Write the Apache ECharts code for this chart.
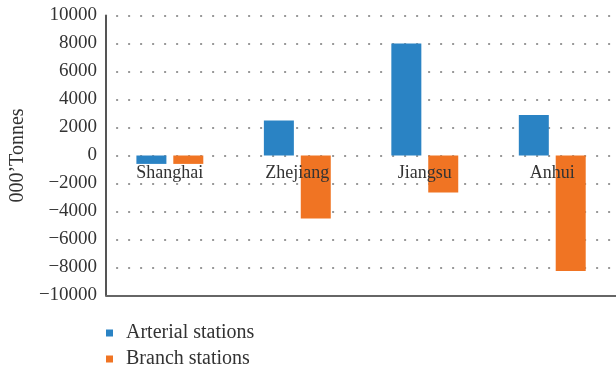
<!DOCTYPE html>
<html>
<head>
<meta charset="utf-8">
<script src="https://cdn.jsdelivr.net/npm/echarts@6/dist/echarts.min.js"></script>
<style>
  html, body { margin: 0; padding: 0; background: #fff; }
  #chart { width: 616px; height: 368px; }
</style>
</head>
<body>
<div id="chart"></div>
<script>
var categories = ['Shanghai', 'Zhejiang', 'Jiangsu', 'Anhui'];
var arterial = [-600, 2500, 8000, 2900];
var branch = [-600, -4500, -2650, -8250];
var seriesNames = ['Arterial stations', 'Branch stations'];
var colors = ['#2A83C4', '#F07423'];

var serif = '"Liberation Serif", "DejaVu Serif", serif';

var myChart = echarts.init(document.getElementById('chart'), null, { renderer: 'canvas' });

var option = {
    color: colors,
    animation: false,
    textStyle: { fontFamily: serif },
    grid: {
        left: 105,
        top: 15.5,
        bottom: 72.5,
        width: 520,
        containLabel: false
    },
    legend: {
        orient: 'vertical',
        left: 101,
        top: 318,
        height: 48,
        itemGap: 6,
        itemWidth: 7,
        itemHeight: 7,
        icon: 'rect',
        textStyle: {
            fontFamily: serif,
            fontSize: 20,
            lineHeight: 19,
            color: '#333',
            padding: [0, 0, 0, 8]
        },
        data: seriesNames
    },
    xAxis: [
        {
            // labels sit just under the zero line (grid height 280, zero in the middle)
            type: 'category',
            data: categories,
            position: 'bottom',
            offset: -140,
            z: 10,
            axisLine: { show: false, onZero: false },
            axisTick: { show: false },
            axisLabel: {
                fontFamily: serif,
                fontSize: 18,
                color: '#333',
                margin: 9
            },
            splitLine: { show: false }
        },
        {
            type: 'category',
            data: categories,
            position: 'bottom',
            axisLine: { show: true, onZero: false, lineStyle: { color: '#666', width: 2 } },
            axisTick: { show: false },
            axisLabel: { show: false },
            splitLine: { show: false }
        }
    ],
    yAxis: {
        type: 'value',
        min: -10000,
        max: 10000,
        interval: 2000,
        name: '000\u2019Tonnes',
        nameLocation: 'middle',
        nameGap: 77,
        nameTextStyle: { fontFamily: serif, fontSize: 20, color: '#333' },
        axisLine: { show: true, lineStyle: { color: '#555', width: 2 } },
        axisTick: { show: false },
        axisLabel: {
            fontFamily: serif,
            fontSize: 19,
            color: '#333',
            margin: 9,
            formatter: function (v) {
                return v < 0 ? '\u2212' + Math.abs(v) : String(v);
            }
        },
        splitLine: {
            show: true,
            lineStyle: { color: '#999', width: 2, type: [2, 10], dashOffset: -10 }
        }
    },
    series: [
        {
            name: seriesNames[0],
            type: 'bar',
            barWidth: 30,
            barGap: '23%',
            data: arterial
        },
        {
            name: seriesNames[1],
            type: 'bar',
            barWidth: 30,
            barGap: '23%',
            data: branch
        }
    ]
};

myChart.setOption(option);
</script>
</body>
</html>
